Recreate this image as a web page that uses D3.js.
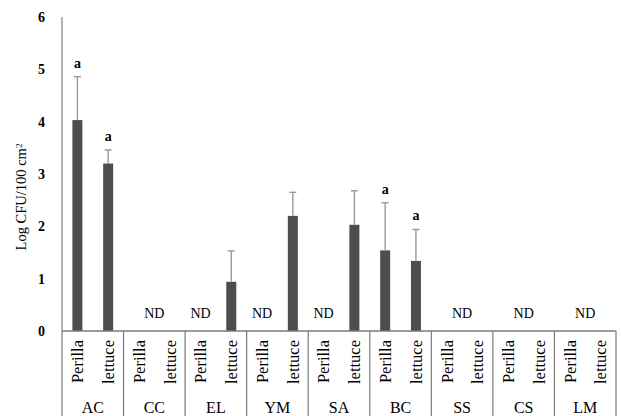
<!DOCTYPE html>
<html>
<head>
<meta charset="utf-8">
<script src="https://cdn.jsdelivr.net/npm/d3@7"></script>
<style>
  body { margin: 0; background: #fff; }
  text { font-family: "Liberation Serif", "Times New Roman", serif; fill: #000; }
</style>
</head>
<body>
<div id="chart"></div>
<script>
// Log CFU/100 cm2 by site and crop; null = not detected (ND)
const groups = ["AC", "CC", "EL", "YM", "SA", "BC", "SS", "CS", "LM"];
const crops = ["Perilla", "lettuce"];
const perillaMean = [4.03, null, null, null, null, 1.54, null, null, null];
const perillaErr  = [0.83, null, null, null, null, 0.91, null, null, null];
const lettuceMean = [3.20, null, 0.94, 2.20, 2.03, 1.34, null, null, null];
const lettuceErr  = [0.26, null, 0.59, 0.45, 0.65, 0.60, null, null, null];
const perillaLetter = ["a", "", "", "", "", "a", "", "", ""];
const lettuceLetter = ["a", "", "", "", "", "a", "", "", ""];
const yTicks = [0, 1, 2, 3, 4, 5, 6];

const width = 621, height = 416;
const margin = { left: 62, right: 5, top: 17, bottom: 85 };

const svg = d3.select("#chart").append("svg")
    .attr("width", width)
    .attr("height", height);

const x = d3.scaleBand()
    .domain(groups)
    .range([margin.left, width - margin.right])
    .padding(0);

const xSub = d3.scaleBand()
    .domain(crops)
    .range([0, x.bandwidth()])
    .paddingInner(0.675)
    .paddingOuter(0.3375);

const y = d3.scaleLinear()
    .domain([0, 6])
    .range([height - margin.bottom, margin.top]);

// build rows for drawing
const rows = [];
groups.forEach((g, i) => {
    rows.push({ group: g, crop: "Perilla", mean: perillaMean[i], err: perillaErr[i], letter: perillaLetter[i] });
    rows.push({ group: g, crop: "lettuce", mean: lettuceMean[i], err: lettuceErr[i], letter: lettuceLetter[i] });
});
const present = rows.filter(d => d.mean !== null);

// y axis
const yAxis = svg.append("g")
    .attr("transform", `translate(${margin.left},0)`)
    .call(d3.axisLeft(y).tickValues(yTicks).tickSize(0).tickPadding(17).tickFormat(d3.format("d")));
yAxis.select(".domain").remove();
yAxis.selectAll("text")
    .style("font-size", "14px")
    .style("font-weight", "bold")
    .style("font-family", "'Liberation Serif', serif");

svg.append("line")
    .attr("x1", margin.left).attr("x2", margin.left)
    .attr("y1", y(6)).attr("y2", y(0))
    .attr("stroke", "#8a8a8a").attr("stroke-width", 1.3);

// bars
const barColor = "#4d4d4d";
svg.append("g").selectAll("rect")
    .data(present)
    .join("rect")
    .attr("x", d => x(d.group) + xSub(d.crop))
    .attr("width", xSub.bandwidth())
    .attr("y", d => y(d.mean))
    .attr("height", d => y(0) - y(d.mean))
    .attr("fill", barColor);

// error bars (upper only)
const eb = svg.append("g").attr("stroke", "#999").attr("stroke-width", 1.4);
present.forEach(d => {
    const cx = x(d.group) + xSub(d.crop) + xSub.bandwidth() / 2;
    eb.append("line")
        .attr("x1", cx).attr("x2", cx)
        .attr("y1", y(d.mean)).attr("y2", y(d.mean + d.err));
    eb.append("line")
        .attr("x1", cx - 3.5).attr("x2", cx + 3.5)
        .attr("y1", y(d.mean + d.err)).attr("y2", y(d.mean + d.err));
});

// significance letters
svg.append("g").selectAll("text")
    .data(present.filter(d => d.letter))
    .join("text")
    .attr("x", d => x(d.group) + xSub(d.crop) + xSub.bandwidth() / 2)
    .attr("y", d => y(d.mean + d.err) - 9)
    .attr("text-anchor", "middle")
    .style("font-size", "14px")
    .style("font-weight", "bold")
    .text(d => d.letter);

// ND labels: centered in group if both missing, else at the missing bar
const ndG = svg.append("g");
groups.forEach((g, i) => {
    const pMiss = perillaMean[i] === null, lMiss = lettuceMean[i] === null;
    if (!pMiss && !lMiss) return;
    let cx;
    if (pMiss && lMiss) cx = x(g) + x.bandwidth() / 2;
    else cx = x(g) + xSub(pMiss ? "Perilla" : "lettuce") + xSub.bandwidth() / 2;
    ndG.append("text")
        .attr("x", cx)
        .attr("y", y(0) - 13)
        .attr("text-anchor", "middle")
        .style("font-size", "14px")
        .text("ND");
});

// x axis line and category separators
const lineColor = "#7a7a7a";
svg.append("line")
    .attr("x1", margin.left).attr("x2", width - margin.right)
    .attr("y1", y(0)).attr("y2", y(0))
    .attr("stroke", lineColor).attr("stroke-width", 1.3);

const seps = groups.map(g => x(g)).concat([x(groups[groups.length - 1]) + x.bandwidth()]);
svg.append("g").selectAll("line")
    .data(seps)
    .join("line")
    .attr("x1", d => d).attr("x2", d => d)
    .attr("y1", y(0)).attr("y2", height)
    .attr("stroke", lineColor).attr("stroke-width", 1.2);

// crop labels (rotated)
svg.append("g").selectAll("text")
    .data(rows)
    .join("text")
    .attr("transform", d => `translate(${x(d.group) + xSub(d.crop) + xSub.bandwidth() / 2},${y(0) + 9}) rotate(-90)`)
    .attr("text-anchor", "end")
    .attr("dy", "0.35em")
    .style("font-size", "16.5px")
    .text(d => d.crop);

// group labels
svg.append("g").selectAll("text")
    .data(groups)
    .join("text")
    .attr("x", d => x(d) + x.bandwidth() / 2)
    .attr("y", height - 3)
    .attr("text-anchor", "middle")
    .style("font-size", "16px")
    .text(d => d);

// y axis title
const yt = svg.append("text")
    .attr("transform", `translate(26,197) rotate(-90)`)
    .attr("text-anchor", "middle")
    .style("font-size", "14.5px");
yt.append("tspan").text("Log CFU/100 cm");
yt.append("tspan").attr("dy", "-0.45em").style("font-size", "9px").text("2");
</script>
</body>
</html>
